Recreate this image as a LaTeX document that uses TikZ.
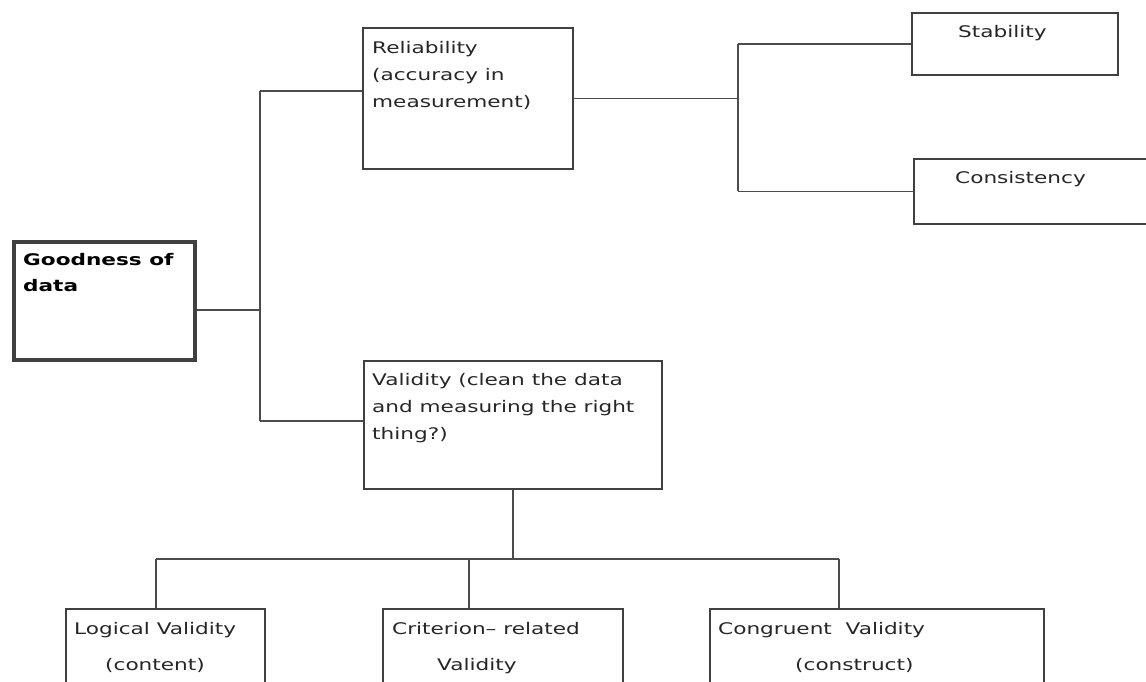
\documentclass[tikz,border=0pt]{standalone}
\usepackage{fontspec}
\setmainfont[FakeStretch=1.35]{DejaVu Sans}
\usetikzlibrary{positioning}

\tikzset{
  box/.style={draw=black!75, line width=1.6pt, inner sep=0pt, anchor=north west},
  boxtext/.style={anchor=north west, inner sep=0pt, align=left, text=black!85,
    font=\fontsize{16}{27}\selectfont},
  link/.style={draw=black!70, line width=1.6pt},
}

\begin{document}
\begin{tikzpicture}[x=1pt, y=-1pt]
  \useasboundingbox (0,0) rectangle (1146,681);
  \clip (0,0) rectangle (1146,681);

  % root
  \node[box, line width=3.5pt, minimum width=181, minimum height=118] (good) at (12,240) {};
  \node[boxtext, font=\fontsize{16}{26}\selectfont\bfseries, text=black,
        below right=13pt and 11pt of good.north west] (goodtxt) {Goodness of\\data};

  % reliability branch
  \node[box, minimum width=210, minimum height=141] (rel) at (362,27) {};
  \node[boxtext, below right=14pt and 10pt of rel.north west] (reltxt)
        {Reliability\\(accuracy in\\measurement)};

  \node[box, minimum width=206, minimum height=62] (stab) at (911,12) {};
  \node[boxtext, below right=13pt and 47pt of stab.north west] (stabtxt) {Stability};

  \node[box, minimum width=260, minimum height=65] (cons) at (913,158) {};
  \node[boxtext, below right=13pt and 42pt of cons.north west] (constxt) {Consistency};

  % validity branch
  \node[box, minimum width=298, minimum height=128] (val) at (363,360) {};
  \node[boxtext, below right=13pt and 9pt of val.north west] (valtxt)
        {Validity (clean the data\\and measuring the right\\thing?)};

  \node[box, minimum width=199, minimum height=100] (logic) at (65,608) {};
  \node[boxtext, font=\fontsize{16}{36}\selectfont,
        below right=14pt and 9pt of logic.north west] (logictxt)
        {Logical Validity\\\hspace*{31pt}(content)};

  \node[box, minimum width=240, minimum height=100] (crit) at (382,608) {};
  \node[boxtext, font=\fontsize{16}{36}\selectfont,
        below right=14pt and 10pt of crit.north west] (crittxt)
        {Criterion-- related\\\hspace*{45pt}Validity};

  \node[box, minimum width=334, minimum height=100] (cong) at (709,608) {};
  \node[boxtext, font=\fontsize{16}{36}\selectfont,
        below right=14pt and 9pt of cong.north west] (congtxt)
        {Congruent\ \ Validity\\\hspace*{77pt}(construct)};

  % connectors
  \coordinate (jrel) at (260,91);
  \coordinate (jgood) at (260,310);
  \coordinate (jval) at (260,421);
  \coordinate (rbus) at (738,0);
  \coordinate (dlog) at (156,559);
  \coordinate (dcrit) at (469,559);
  \coordinate (dcong) at (839,559);

  \draw[link] (jrel) -- (jval);
  \draw[link] (jrel) -- (jrel -| rel.west);
  \draw[link] (jgood) -- (jgood -| good.east);
  \draw[link] (jval) -- (jval -| val.west);

  \draw[link] (rel.east) -- (rel.east -| rbus);
  \draw[link] (stab.west -| rbus) -- (cons.west -| rbus);
  \draw[link] (stab.west) -- (stab.west -| rbus);
  \draw[link] (cons.west) -- (cons.west -| rbus);

  \draw[link] (val.south) -- (val.south |- dcrit);
  \draw[link] (dlog) -- (dcong);
  \foreach \b/\d in {logic/dlog, crit/dcrit, cong/dcong}
    \draw[link] (\d) -- (\d |- \b.north);
\end{tikzpicture}
\end{document}
